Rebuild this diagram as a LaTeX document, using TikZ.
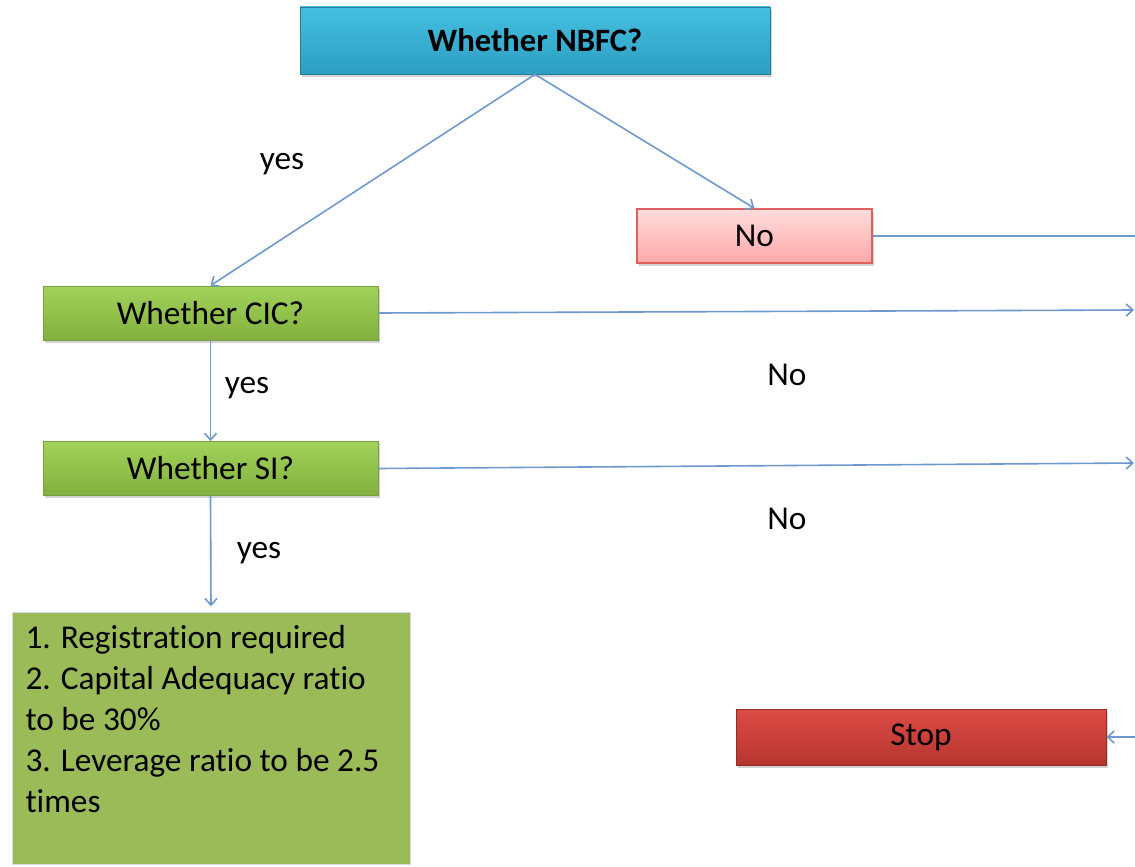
\documentclass[tikz,border=0pt]{standalone}
\usepackage{fontspec}
\setmainfont[Ligatures=NoCommon]{Carlito}
\usetikzlibrary{arrows.meta,shadows}

\definecolor{nbfcTop}{HTML}{45C0E0}
\definecolor{nbfcBot}{HTML}{2C9EC2}
\definecolor{greenTop}{HTML}{A2D25A}
\definecolor{greenBot}{HTML}{82B03E}
\definecolor{greenLine}{HTML}{7A9E3C}
\definecolor{noTop}{HTML}{FFDCDC}
\definecolor{noBot}{HTML}{FFA9A9}
\definecolor{noLine}{HTML}{E0605C}
\definecolor{stopTop}{HTML}{DC4B45}
\definecolor{stopBot}{HTML}{B7352F}
\definecolor{reqFill}{HTML}{9BBB59}
\definecolor{linkBlue}{HTML}{6F98CF}

\tikzset{
	boxbase/.style={rectangle, inner sep=0pt, font=\fontsize{25}{29}\selectfont,
		drop shadow={shadow xshift=1.2pt, shadow yshift=-2pt, opacity=0.35}},
	nbfcbox/.style={boxbase, draw=nbfcBot!80!black, line width=0.6pt,
		top color=nbfcTop, bottom color=nbfcBot,
		minimum width=352.5pt, minimum height=50.25pt, font=\fontsize{24.5}{28}\selectfont\bfseries},
	testbox/.style={boxbase, draw=greenLine, line width=0.6pt,
		top color=greenTop, bottom color=greenBot,
		minimum width=251.25pt, minimum height=40.5pt},
	nobox/.style={boxbase, draw=noLine, line width=1pt,
		top color=noTop, bottom color=noBot,
		minimum width=176.25pt, minimum height=40.5pt},
	stopbox/.style={boxbase, draw=stopBot!80!black, line width=0.6pt,
		top color=stopTop, bottom color=stopBot,
		minimum width=277.5pt, minimum height=42pt},
	reqbox/.style={rectangle, draw=black!15, line width=0.6pt, fill=reqFill,
		minimum width=298.5pt, minimum height=189pt},
	link/.style={draw=linkBlue, line width=1.2pt, -{Straight Barb[length=5pt,width=9pt]}},
	lbl/.style={font=\fontsize{25}{29}\selectfont}
}
\tikzset{every picture/.style={line width=0.75pt}}

\begin{document}
\begin{tikzpicture}[x=0.75pt,y=0.75pt,yscale=-1,xscale=1]
	\useasboundingbox (0,0) rectangle (1135,867);

	%Shape: Rectangle [nbfc]
	\node [nbfcbox] (nbfc) at (535,40.5) {Whether NBFC?};
	%Shape: Rectangle [no]
	\node [nobox] (no) at (754.5,236) {\raisebox{-2pt}{No}};
	%Shape: Rectangle [cic]
	\node [testbox] (cic) at (210.5,313) {\raisebox{-2pt}{Whether CIC?}};
	%Shape: Rectangle [si]
	\node [testbox] (si) at (210.5,468.5) {\raisebox{-2pt}{Whether SI?}};
	%Shape: Rectangle [req]
	\node [reqbox] (req) at (211,738) {};
	\node [anchor=north west, inner sep=0pt, align=left,
		font=\fontsize{25}{30.75}\selectfont] (reqtext) at (25,625)
		{1. Registration required\\2. Capital Adequacy ratio\\to be 30\%\\3. Leverage ratio to be 2.5\\times};
	%Shape: Rectangle [stop]
	\node [stopbox] (stop) at (921,737) {\raisebox{-2pt}{Stop}};

	% Off-page ends
	\coordinate (noend) at (1135,236);
	\coordinate (cicend) at (1134,310);
	\coordinate (siend) at (1134,463);
	\coordinate (stopin) at (1135,737);

	%Straight Lines
	\draw [link] (nbfc.south) -- (cic.north);
	\draw [link] (nbfc.south) -- (no.north);
	\draw [link, -] (no.east) -- (noend);
	\draw [link] (cic.east) -- (cicend);
	\draw [link] (cic.south) -- (si.north);
	\draw [link] (si.east) -- (siend);
	\draw [link] (si.south) -- ([yshift=-4]req.north);
	\draw [link] (stopin) -- (stop.east);

	% Text Node
	\node [lbl] (yes1) at (282,164) {yes};
	% Text Node
	\node [lbl] (no1) at (787,375) {No};
	% Text Node
	\node [lbl] (yes2) at (247,388) {yes};
	% Text Node
	\node [lbl] (no2) at (787,519) {No};
	% Text Node
	\node [lbl] (yes3) at (259,553) {yes};
\end{tikzpicture}
\end{document}
